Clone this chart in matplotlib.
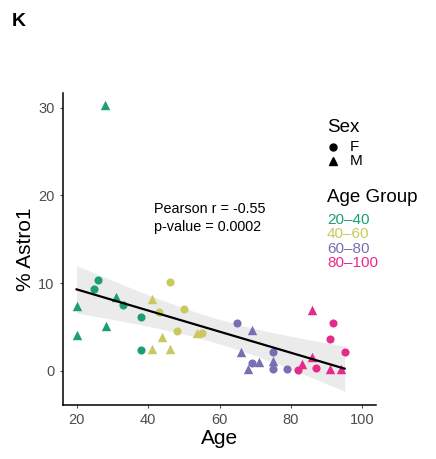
import numpy as np
import matplotlib
matplotlib.use("Agg")
import matplotlib.pyplot as plt
from matplotlib.lines import Line2D

plt.rcParams['font.family'] = ['Liberation Sans', 'DejaVu Sans']

# age groups, sex ('F' circle / 'M' triangle), age, % Astro1
groups = ['20-40', '40-60', '60-80', '80-100']
group_colors = ['#1B9E77', '#C9C95F', '#7570B3', '#E7298A']

age_2040 = [28.0, 26.1, 25.0, 20.1, 20.0, 28.2, 31.1, 33.1, 38.0, 38.0]
pct_2040 = [30.3, 10.4, 9.3, 7.4, 4.1, 5.1, 8.4, 7.5, 6.1, 2.4]
sex_2040 = ['M', 'F', 'F', 'M', 'M', 'M', 'M', 'F', 'F', 'F']

age_4060 = [41.1, 43.0, 46.0, 50.0, 48.1, 44.0, 41.1, 46.0, 53.7, 55.1]
pct_4060 = [8.2, 6.7, 10.1, 7.0, 4.5, 3.8, 2.5, 2.5, 4.3, 4.3]
sex_4060 = ['M', 'F', 'F', 'F', 'F', 'M', 'M', 'M', 'M', 'F']

age_6080 = [65.0, 69.0, 66.0, 74.9, 74.9, 69.0, 71.1, 68.0, 74.9, 79.0]
pct_6080 = [5.4, 4.7, 2.1, 2.2, 1.1, 0.9, 1.0, 0.25, 0.15, 0.15]
sex_6080 = ['F', 'M', 'M', 'F', 'M', 'F', 'M', 'M', 'F', 'F']

age_80100 = [85.9, 91.9, 91.0, 95.0, 85.9, 83.0, 81.9, 87.0, 91.0, 94.0]
pct_80100 = [6.9, 5.5, 3.6, 2.1, 1.6, 0.8, 0.1, 0.35, 0.15, 0.2]
sex_80100 = ['M', 'F', 'F', 'F', 'M', 'M', 'F', 'F', 'M', 'M']

ages = [age_2040, age_4060, age_6080, age_80100]
pcts = [pct_2040, pct_4060, pct_6080, pct_80100]
sexes = [sex_2040, sex_4060, sex_6080, sex_80100]

xticks = [20, 40, 60, 80, 100]
yticks = [0, 10, 20, 30]

fig = plt.figure(figsize=(4.36, 4.59), dpi=100)
ax = fig.add_axes([0.1438, 0.1176, 0.8624 - 0.1438, 0.798 - 0.1176])

# linear fit with 95% confidence band
x_all = np.concatenate([np.array(a) for a in ages])
y_all = np.concatenate([np.array(p) for p in pcts])
n = len(x_all)
slope, intercept = np.polyfit(x_all, y_all, 1)
resid = y_all - (slope * x_all + intercept)
s = np.sqrt(np.sum(resid ** 2) / (n - 2))
xs = np.linspace(x_all.min(), x_all.max(), 100)
ys = slope * xs + intercept
se = s * np.sqrt(1.0 / n + (xs - x_all.mean()) ** 2 / np.sum((x_all - x_all.mean()) ** 2))
tval = 2.024
ax.fill_between(xs, ys - tval * se, ys + tval * se, color='#EBEBEB', lw=0, zorder=1)

for a, p, sx, col in zip(ages, pcts, sexes, group_colors):
    a = np.array(a); p = np.array(p); sx = np.array(sx)
    f = sx == 'F'
    ax.scatter(a[f], p[f], marker='o', s=34, color=col, lw=0, zorder=2)
    ax.scatter(a[~f], p[~f], marker='^', s=46, color=col, lw=0, zorder=2)

ax.plot(xs, ys, color='black', lw=1.6, zorder=3)

ax.text(41.6, 17.4, 'Pearson r = -0.55\np-value = 0.0002', fontsize=10.4,
        va='center', ha='left', linespacing=1.35)

ax.set_xlim(16.1, 103.8)
ax.set_ylim(-3.9, 31.7)
ax.set_xticks(xticks)
ax.set_yticks(yticks)
ax.tick_params(colors='#4D4D4D', labelsize=10.5, length=2.5, width=0.8)
for side in ['top', 'right']:
    ax.spines[side].set_visible(False)
for side in ['left', 'bottom']:
    ax.spines[side].set_linewidth(1.1)
ax.set_xlabel('Age', fontsize=15, labelpad=1)
ax.set_ylabel('% Astro1', fontsize=15, labelpad=2)

# legends
fig.text(327 / 436, 1 - 128 / 459, 'Sex', fontsize=13.5, va='center', ha='left')
fig.lines.append(Line2D([333 / 436], [1 - 146.7 / 459], marker='o', color='black', ms=5,
                        transform=fig.transFigure, ls='none'))
fig.lines.append(Line2D([333 / 436], [1 - 161 / 459], marker='^', color='black', ms=6,
                        transform=fig.transFigure, ls='none'))
fig.text(350 / 436, 1 - 146.7 / 459, 'F', fontsize=11, va='center', ha='left')
fig.text(350 / 436, 1 - 161 / 459, 'M', fontsize=11, va='center', ha='left')

fig.text(327 / 436, 1 - 198 / 459, 'Age Group', fontsize=13.5, va='center', ha='left')
for i, (g, col) in enumerate(zip(groups, group_colors)):
    fig.text(327 / 436, 1 - (220 + 14.3 * i) / 459, g.replace('-', '\u2013'),
             fontsize=11, color=col, va='center', ha='left')

fig.text(12 / 436, 1 - 22 / 459, 'K', fontsize=14, fontweight='bold', va='center', ha='left')

fig.savefig('out.png', dpi=100)
